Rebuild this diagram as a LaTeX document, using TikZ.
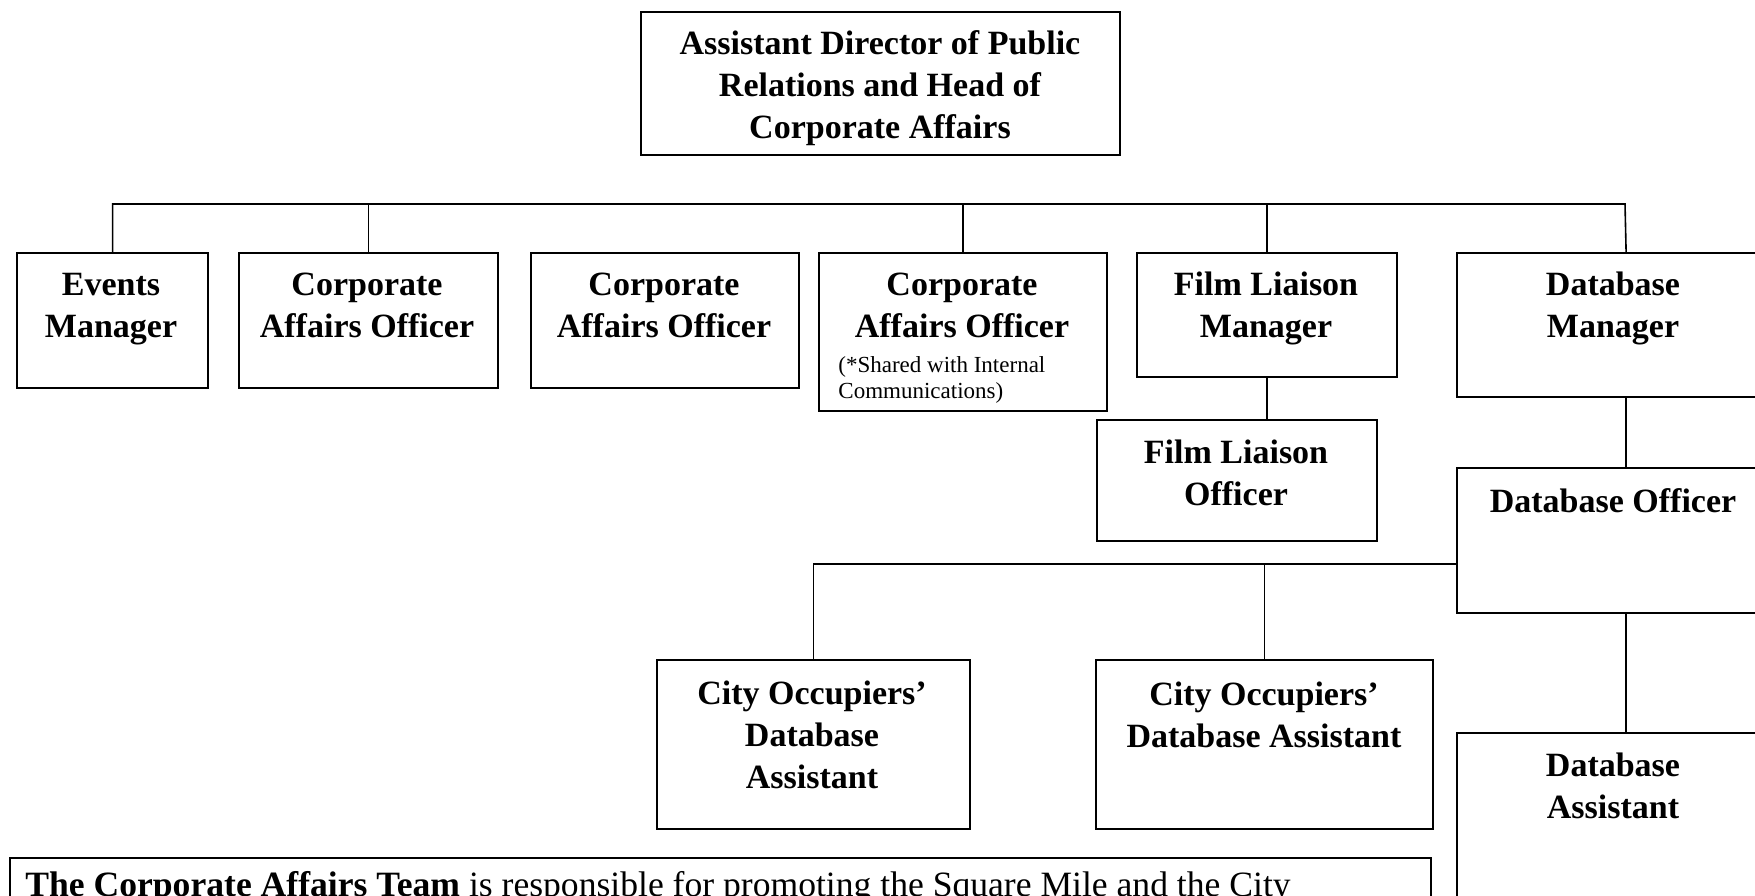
\documentclass[tikz,border=0pt]{standalone}
\usepackage{fontspec}
\setmainfont{Liberation Serif}
\begin{document}
\begin{tikzpicture}[x=0.5pt,y=-0.5pt,
  post/.style={draw=black, line width=1.1pt, inner sep=0pt, anchor=north west},
  title/.style={font=\fontsize{17}{21}\selectfont\bfseries, align=center, anchor=base, inner sep=0pt},
  remark/.style={font=\fontsize{11.5}{13}\selectfont, align=left, anchor=base west, inner sep=0pt},
  body/.style={font=\fontsize{17.8}{20}\selectfont, anchor=base west, inner sep=0pt},
  link/.style={draw=black, line width=0.8pt}]
\useasboundingbox (0,0) rectangle (1755,895);
\clip (0,0) rectangle (1755,895);
% box helper: name, left, top, right, bottom
\newcommand\orgpost[5]{\node[post, minimum width={(#4-#2)*0.5pt}, minimum height={(#5-#3)*0.5pt}] (#1) at (#2,#3) {};}

% boxes
\orgpost{head}{640}{11}{1119}{154}
\orgpost{ev}{16}{252}{207}{387}
\orgpost{caoA}{238}{252}{497}{387}
\orgpost{caoB}{530}{252}{798}{387}
\orgpost{caoC}{818}{252}{1106}{410}
\orgpost{flm}{1136}{252}{1396}{376}
\orgpost{dbm}{1456}{252}{1794}{396}
\orgpost{flo}{1096}{419}{1376}{540}
\orgpost{dbo}{1456}{467}{1794}{612}
\orgpost{codA}{656}{659}{969}{828}
\orgpost{codB}{1095}{659}{1432}{828}
\orgpost{dba}{1456}{732}{1794}{960}
\orgpost{note}{9}{857}{1430}{960}

% labels (anchored at the baseline of their last line)
\node[title] (headT) at (880,138) {Assistant Director of Public\\Relations and Head of\\Corporate Affairs};
\node[title] (evT) at (111,337) {Events\\Manager};
\node[title] (caoAT) at (367,337) {Corporate\\Affairs Officer};
\node[title] (caoBT) at (664,337) {Corporate\\Affairs Officer};
\node[title] (caoCT) at (962,337) {Corporate\\Affairs Officer};
\node[remark] (caoCN) at (838,398) {(*Shared with Internal\\Communications)};
\node[title] (flmT) at (1266,337) {Film Liaison\\Manager};
\node[title] (dbmT) at (1613,337) {Database\\Manager};
\node[title] (floT) at (1236,505) {Film Liaison\\Officer};
\node[title] (dboT) at (1613,512) {Database Officer};
\node[title] (codAT) at (812,788) {City Occupiers’\\Database\\Assistant};
\node[title] (codBT) at (1264,747) {City Occupiers’\\Database Assistant};
\node[title] (dbaT) at (1613,818) {Database\\Assistant};
\node[body] (noteT) at (25,896) {\textbf{The Corporate Affairs Team} is responsible for promoting the Square Mile and the City};

% reporting lines
\coordinate (barR) at (1625,204);
\coordinate (dbJoin) at (1456,564);
\draw[link] (ev.north) |- (barR) -- (dbm.north);
\draw[link] (caoA.north) -- (caoA.north |- barR);
\draw[link] (caoC.north) -- (caoC.north |- barR);
\draw[link] (flm.north) -- (flm.north |- barR);
\draw[link] (flm.south) -- (flm.south |- flo.north);
\draw[link] (dbm.south) -- (dbo.north);
\draw[link] (dbo.south) -- (dba.north);
\draw[link] (codA.north) |- (dbJoin);
\draw[link] (codB.north) -- (codB.north |- dbJoin);
\end{tikzpicture}
\end{document}
